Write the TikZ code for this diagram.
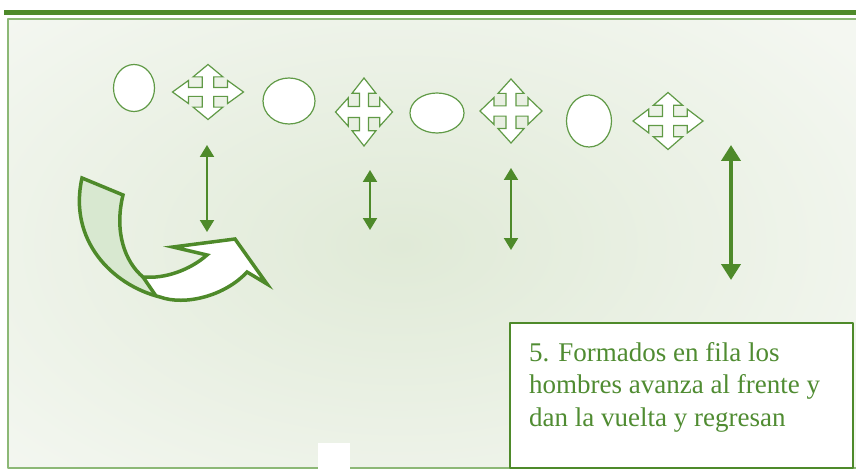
\documentclass[tikz,border=0pt]{standalone}
\usepackage{fontspec}
\setmainfont{Liberation Serif}
\usetikzlibrary{arrows.meta,shapes.geometric}

\definecolor{framegreen}{RGB}{78,138,42}
\definecolor{edgegreen}{RGB}{140,184,118}
\definecolor{markgreen}{RGB}{96,154,70}
\definecolor{textgreen}{RGB}{80,140,50}
\definecolor{bgbase}{RGB}{244,247,241}
\definecolor{bgmid}{RGB}{224,234,215}
\definecolor{foldgreen}{RGB}{216,232,208}

\newcommand{\uturnpath}{(82,178) -- (123,195) .. controls (114,232) and (125,262) .. (143,277)
  .. controls (165,279) and (190,270) .. (207,255) -- (173,247) -- (235,239) -- (267,284) -- (247,272)
  .. controls (225,296) and (185,306) .. (160,297) .. controls (112,285) and (68,240) .. (82,178) -- cycle}

\tikzset{
  dancer/.style={ellipse, draw=markgreen, line width=1.2pt, fill=white, inner sep=0pt},
  quadarrow/.pic={
    \draw[markgreen, line width=1.2pt, fill=white, line join=miter]
      (1,0) -- (0.55,0.42) -- (0.55,0.16) -- (0.16,0.16) -- (0.16,0.55) -- (0.42,0.55) -- (0,1)
      -- (-0.42,0.55) -- (-0.16,0.55) -- (-0.16,0.16) -- (-0.55,0.16) -- (-0.55,0.42) -- (-1,0)
      -- (-0.55,-0.42) -- (-0.55,-0.16) -- (-0.16,-0.16) -- (-0.16,-0.55) -- (-0.42,-0.55) -- (0,-1)
      -- (0.42,-0.55) -- (0.16,-0.55) -- (0.16,-0.16) -- (0.55,-0.16) -- (0.55,-0.42) -- cycle;
  },
  move/.style={framegreen, line width=2pt, {Triangle[width=14pt,length=12pt]}-{Triangle[width=14pt,length=12pt]}},
  bigmove/.style={framegreen, line width=4.5pt, {Triangle[width=19pt,length=16pt]}-{Triangle[width=19pt,length=16pt]}}
}

\begin{document}
\begin{tikzpicture}[x=1pt, y=-1pt, line join=round]
  \useasboundingbox (0,0) rectangle (856,473);
  \fill[white] (0,0) rectangle (856,473);

  \fill[bgbase] (8,19) rectangle (862,468);
  \begin{scope}
    \clip (8,19) rectangle (862,468);
    \shade[inner color=bgmid, outer color=bgbase] (400,245) ellipse (560 and 330);
  \end{scope}
  \draw[edgegreen, line width=2.5pt] (8,19) rectangle (862,468);
  \fill[framegreen] (4,10) rectangle (856,15);

  \node[dancer, minimum width=41pt, minimum height=47pt] (d1) at (134,88) {};
  \node[dancer, minimum width=52pt, minimum height=46pt] (d2) at (289,101) {};
  \node[dancer, minimum width=54pt, minimum height=40pt] (d3) at (437,113) {};
  \node[dancer, minimum width=45pt, minimum height=52pt] (d4) at (589,121) {};

  \pic[xscale=35.5, yscale=27.5] (q1) at (208,92) {quadarrow};
  \pic[xscale=28.5, yscale=34] (q2) at (364,112) {quadarrow};
  \pic[xscale=31, yscale=32] (q3) at (511,111) {quadarrow};
  \pic[xscale=35, yscale=28.5] (q4) at (668,121) {quadarrow};

  \coordinate (m1a) at (207,145);
  \coordinate (m1b) at (207,232);
  \coordinate (m2a) at (370,170);
  \coordinate (m2b) at (370,230);
  \coordinate (m3a) at (511,168);
  \coordinate (m3b) at (511,250);
  \coordinate (m4a) at (731,145);
  \coordinate (m4b) at (731,280);

  \draw[move] (m1a) -- (m1b);
  \draw[move] (m2a) -- (m2b);
  \draw[move] (m3a) -- (m3b);
  \draw[bigmove] (m4a) -- (m4b);

  \fill[white] \uturnpath;
  \begin{scope}
    \clip \uturnpath;
    \fill[foldgreen] (60,170) -- (123,195) .. controls (114,232) and (125,262) .. (143,277)
      -- (156,296) -- (158,310) -- (60,310) -- cycle;
  \end{scope}
  \draw[framegreen, line width=3.5pt] (143,277) -- (156,296);
  \draw[framegreen, line width=3.5pt, line join=miter] \uturnpath;

  \fill[white] (318,443) rectangle (350,473);

  \draw[framegreen, line width=2pt, fill=white] (510,323) rectangle (853,468);
  \node[anchor=north west, align=left, inner sep=0pt, text=textgreen,
    font=\fontsize{27}{32.5}\selectfont] (step5) at (529,342)
    {5. Formados en fila los\\hombres avanza al frente y\\dan la vuelta y regresan};
\end{tikzpicture}
\end{document}
